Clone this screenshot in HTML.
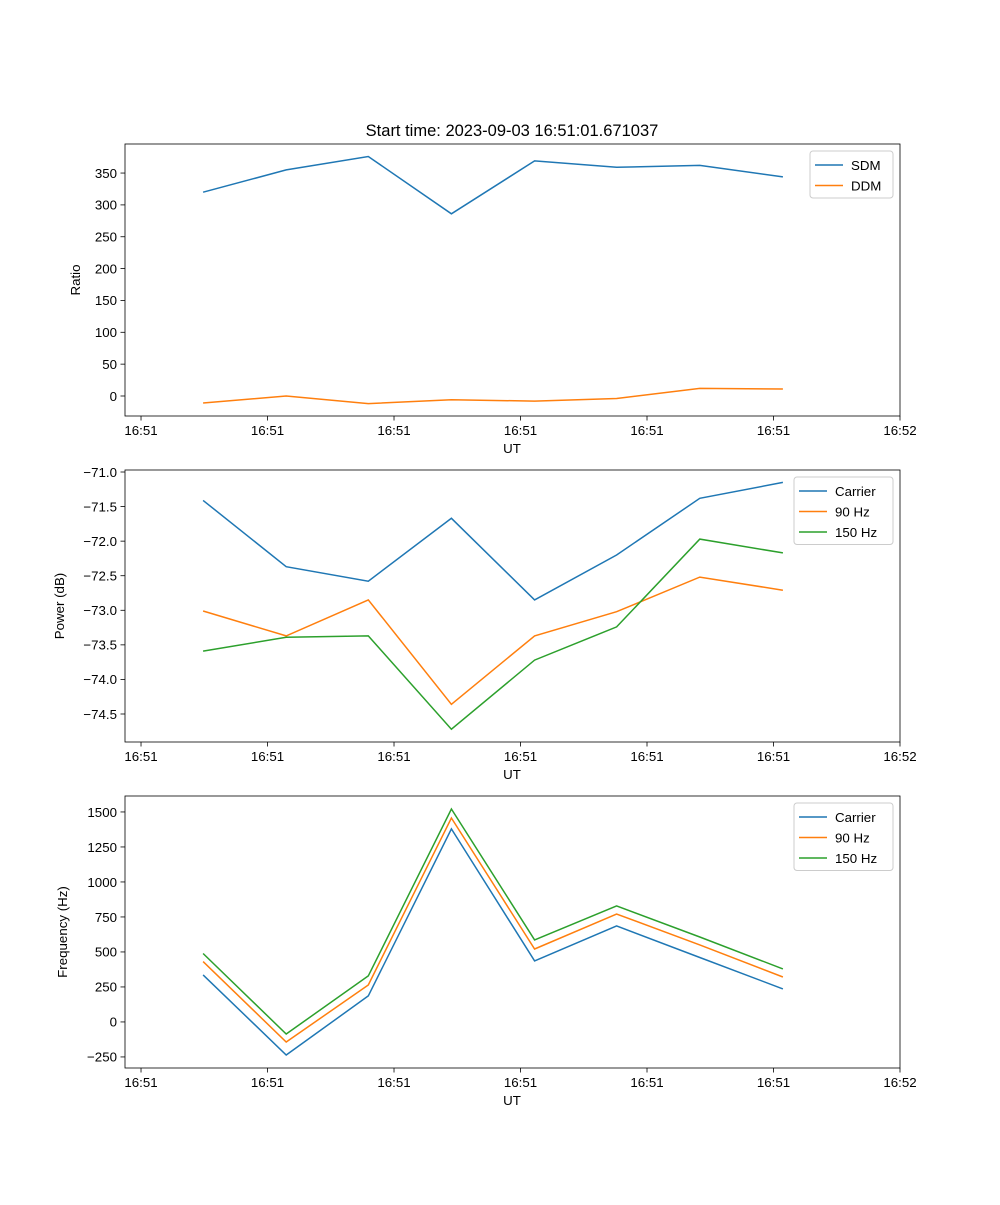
<!DOCTYPE html>
<html><head><meta charset="utf-8"><style>
body{margin:0;background:#fff;}
svg text{font-family:"Liberation Sans","DejaVu Sans",sans-serif;fill:#000;}
</style></head><body>
<svg id="fig" width="1000" height="1200" xmlns="http://www.w3.org/2000/svg">
<rect width="1000" height="1200" fill="#fff"/>
<text x="512" y="136" font-size="16.5" text-anchor="middle">Start time: 2023-09-03 16:51:01.671037</text>
</svg>
<script>
// time in seconds after 16:51:00
const times = [4.91, 11.48, 17.97, 24.54, 31.11, 37.60, 44.17, 50.74];
const xTickVals = [0, 10, 20, 30, 40, 50, 60];
const xTickLabels = ["16:51","16:51","16:51","16:51","16:51","16:51","16:52"];
const sdm = [320, 355, 376, 286, 369, 359, 362, 344];
const ddm = [-11, 0, -12, -6, -8, -4, 12, 11];
const powCarrier = [-71.41, -72.37, -72.58, -71.67, -72.85, -72.20, -71.38, -71.15];
const pow90 = [-73.01, -73.37, -72.85, -74.36, -73.37, -73.02, -72.52, -72.71];
const pow150 = [-73.59, -73.39, -73.37, -74.72, -73.72, -73.24, -71.97, -72.17];
const frqCarrier = [336, -236, 186, 1379, 436, 686, 460, 236];
const frq90 = [431, -143, 264, 1457, 521, 771, 550, 321];
const frq150 = [489, -86, 329, 1521, 586, 829, 607, 379];
const yTicks1 = [0, 50, 100, 150, 200, 250, 300, 350];
const yTicks2 = [-74.5, -74.0, -73.5, -73.0, -72.5, -72.0, -71.5, -71.0];
const yTicks3 = [-250, 0, 250, 500, 750, 1000, 1250, 1500];

const NS = "http://www.w3.org/2000/svg";
const svg = document.getElementById('fig');
function mk(tag, attrs, parent){const e=document.createElementNS(NS,tag);for(const k in attrs)e.setAttribute(k,attrs[k]);(parent||svg).appendChild(e);return e;}
const L=125,R=900;
const xScale = t => L + (t - (-1.2665)) / (60 - (-1.2665)) * (R - L);

function panel(name, top, bot, ymin, ymax, yTicks, fmt, ylabel, series, legend){
  const g = mk('g',{});
  
  
  const yScale = v => bot - (v - ymin) / (ymax - ymin) * (bot - top);
  series.forEach(s=>{
    const pts = s.vals.map((v,i)=>xScale(times[i]).toFixed(1)+','+yScale(v).toFixed(1)).join(' ');
    const pl = mk('polyline',{points:pts,fill:'none',stroke:s.color,'stroke-width':1.5},g);
    
    
  });
  mk('rect',{x:L,y:top,width:R-L,height:bot-top,fill:'none',stroke:'#000','stroke-width':0.8},g);
  xTickVals.forEach((t,i)=>{
    const x=xScale(t);
    mk('line',{x1:x,x2:x,y1:bot,y2:bot+4.5,stroke:'#000','stroke-width':0.8},g);
    const tx=mk('text',{x:x,y:bot+19,'font-size':13.3,'text-anchor':'middle'},g);
    tx.textContent=xTickLabels[i];
    
    
  });
  yTicks.forEach(v=>{
    const y=yScale(v);
    mk('line',{x1:L-4.5,x2:L,y1:y,y2:y,stroke:'#000','stroke-width':0.8},g);
    const tx=mk('text',{x:L-8,y:y+4.8,'font-size':13.3,'text-anchor':'end'},g);
    tx.textContent=fmt(v).replace('-','\u2212');
    
    
  });
  const xl=mk('text',{x:512,y:bot+37,'font-size':13.3,'text-anchor':'middle'},g);
  xl.textContent='UT';
  
  
  const ylx = legend.ylx, ymid=(top+bot)/2;
  const yl=mk('text',{x:ylx,y:ymid,'font-size':13.3,'text-anchor':'middle',transform:`rotate(-90 ${ylx} ${ymid})`},g);
  yl.textContent=ylabel;
  
  
  const lg=mk('g',{},g);
  
  
  const lx=legend.x, lw=R-7-lx, lh=series.length*20.5+6;
  mk('rect',{x:lx,y:top+7,width:lw,height:lh,rx:3,fill:'#fff',stroke:'#ccc','stroke-width':1},lg);
  series.forEach((s,i)=>{
    const y=top+7+14+i*20.5;
    mk('line',{x1:lx+5,x2:lx+33,y1:y,y2:y,stroke:s.color,'stroke-width':1.5},lg);
    const t=mk('text',{x:lx+41,y:y+4.8,'font-size':13.3},lg);
    t.textContent=s.label;
    
    
  });
}
panel('ratio-panel',144,416,-31.4,395.6,yTicks1,v=>String(v),'Ratio',
  [{id:'sdm-line',label:'SDM',vals:sdm,color:'#1f77b4'},{id:'ddm-line',label:'DDM',vals:ddm,color:'#ff7f0e'}],{x:810,ylx:80});
panel('power-panel',470,742,-74.905,-70.971,yTicks2,v=>v.toFixed(1),'Power (dB)',
  [{id:'power-carrier-line',label:'Carrier',vals:powCarrier,color:'#1f77b4'},{id:'power-90hz-line',label:'90 Hz',vals:pow90,color:'#ff7f0e'},{id:'power-150hz-line',label:'150 Hz',vals:pow150,color:'#2ca02c'}],{x:794,ylx:64});
panel('frequency-panel',796,1068,-329,1614,yTicks3,v=>String(v),'Frequency (Hz)',
  [{id:'freq-carrier-line',label:'Carrier',vals:frqCarrier,color:'#1f77b4'},{id:'freq-90hz-line',label:'90 Hz',vals:frq90,color:'#ff7f0e'},{id:'freq-150hz-line',label:'150 Hz',vals:frq150,color:'#2ca02c'}],{x:794,ylx:67});
</script>
</body></html>
